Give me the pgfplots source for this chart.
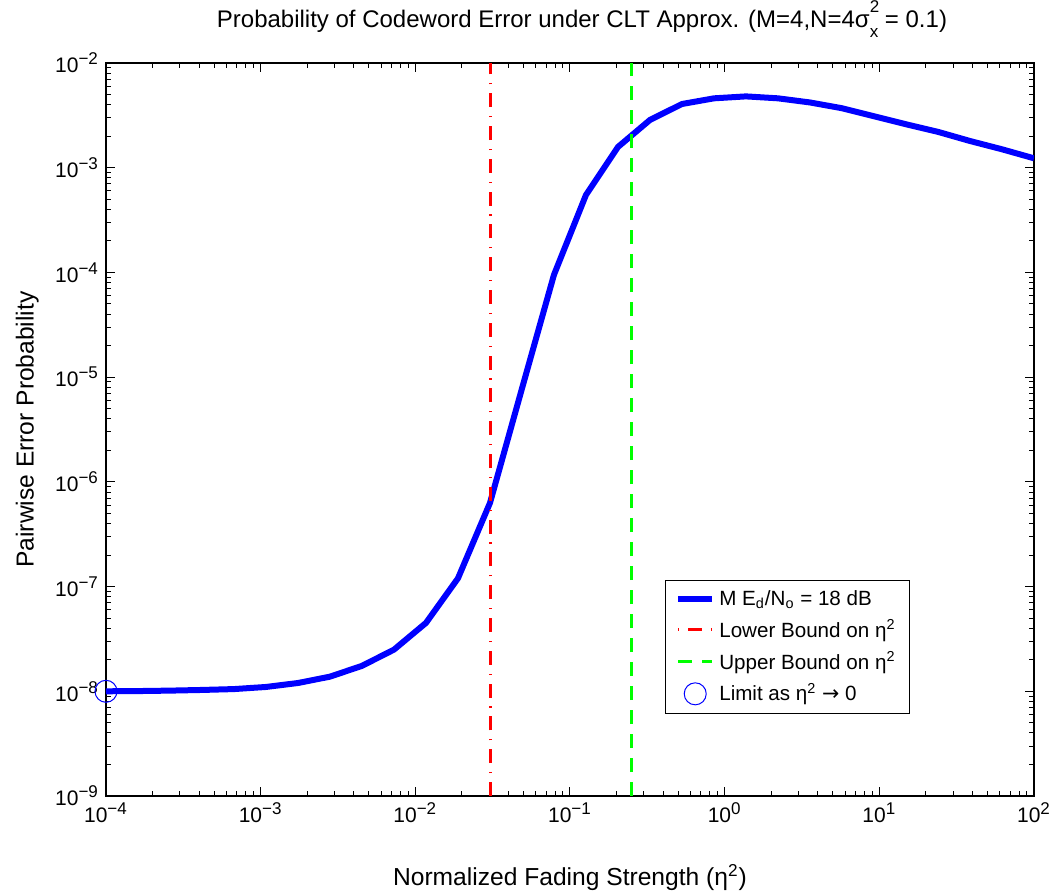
\documentclass[border=0pt]{standalone}
\usepackage{fontspec}
\setmainfont{Liberation Sans}
\newfontfamily\dejavu{DejaVu Sans}
\usepackage{pgfplots}
\pgfplotsset{compat=1.18}
\newcommand\tsup[1]{\textsuperscript{\fontsize{8.5}{9}\selectfont #1}}
\begin{document}
\fontsize{10}{12}\selectfont
\begin{tikzpicture}
\begin{axis}[
  scale only axis, width=464pt, height=366.5pt,
  xmode=log, ymode=log,
  xmin=1e-4, xmax=1e2, ymin=1e-9, ymax=1e-2,
  axis line style={line width=0.6pt},
  tick align=inside, tick style={black, line width=0.5pt},
  major tick length=4.5pt, minor tick length=2.5pt,
  xtick={1e-4,1e-3,1e-2,1e-1,1,10,100},
  xticklabels={10\tsup{−4},10\tsup{−3},10\tsup{−2},10\tsup{−1},10\tsup{0},10\tsup{1},10\tsup{2}},
  ytick={1e-9,1e-8,1e-7,1e-6,1e-5,1e-4,1e-3,1e-2},
  yticklabels={10\tsup{−9},10\tsup{−8},10\tsup{−7},10\tsup{−6},10\tsup{−5},10\tsup{−4},10\tsup{−3},10\tsup{−2}},
  tick label style={font=\fontsize{10.5}{12}\selectfont},
  title={Probability of Codeword Error under CLT Approx. (M=4,N=4σ\rlap{\raisebox{0.62em}{\fontsize{8.5}{9}\selectfont 2}}\raisebox{-0.42em}{\fontsize{8.5}{9}\selectfont x} = 0.1)},
  title style={at={(axis description cs:0.5,1)}, anchor=base, yshift=12pt, xshift=6pt, font=\fontsize{12}{14}\selectfont},
  xlabel={Normalized Fading Strength (η\textsuperscript{2})},
  xlabel style={at={(axis description cs:0.5,0)}, anchor=base, yshift=-44.5pt, font=\fontsize{12.3}{14}\selectfont},
  ylabel={Pairwise Error Probability},
  ylabel style={at={(axis description cs:-0.078,0.5)}, rotate=0, anchor=base, font=\fontsize{12.3}{14}\selectfont},
  legend style={at={(axis description cs:0.602,0.295)}, anchor=north west, draw=black, line width=0.5pt, fill=white, font=\fontsize{10.3}{12}\selectfont, row sep=1.8pt, inner xsep=5pt, inner ysep=3pt},
  legend cell align=left,
]
\coordinate (sw) at (rel axis cs:0,0);
\coordinate (ne) at (rel axis cs:1,1);
\addplot[blue, line width=3pt] coordinates {
(1.0000e-4,1.000e-8) (1.6103e-4,1.005e-8) (2.5929e-4,1.015e-8) (4.1753e-4,1.03e-8)
(6.7234e-4,1.05e-8) (1.0826e-3,1.10e-8) (1.7433e-3,1.20e-8) (2.8072e-3,1.38e-8)
(4.5204e-3,1.75e-8) (7.2790e-3,2.5e-8) (1.1721e-2,4.5e-8) (1.8874e-2,1.2e-7)
(3.0392e-2,6.3e-7) (4.8939e-2,7.8e-6) (7.8805e-2,9.5e-5) (0.12690,5.5e-4)
(0.20434,1.58e-3) (0.32903,2.86e-3) (0.52983,4.06e-3) (0.85317,4.6e-3)
(1.3738,4.8e-3) (2.2122,4.6e-3) (3.5622,4.2e-3) (5.7362,3.7e-3)
(9.2367,3.1e-3) (14.874,2.6e-3) (23.950,2.2e-3) (38.566,1.8e-3)
(62.102,1.5e-3) (100,1.23e-3)
};
\addlegendentry{M E\textsubscript{d}/N\textsubscript{o} = 18 dB}
\addplot[red, line width=1.5pt, dash pattern=on 7pt off 4.4pt on 0.6pt off 4.4pt, legend image post style={dash phase=11.4pt}] coordinates {(0.0304,1e-9) (0.0304,1e-2)};
\addlegendentry{Lower Bound on η\textsuperscript{2}}
\addplot[green, line width=1.5pt, dash pattern=on 7pt off 5pt] coordinates {(0.25,1e-9) (0.25,1e-2)};
\addlegendentry{Upper Bound on η\textsuperscript{2}}
\addplot[blue, only marks, mark=o, mark size=5.5pt, mark options={line width=0.5pt}] coordinates {(1e-4,1e-8)};
\addlegendentry{Limit as η\textsuperscript{2} {\dejavu →} 0}
\end{axis}
\pgfresetboundingbox
\path[use as bounding box] ([shift={(-53pt,-49pt)}]sw) rectangle ([shift={(10.5pt,31.5pt)}]ne);
\end{tikzpicture}
\end{document}
